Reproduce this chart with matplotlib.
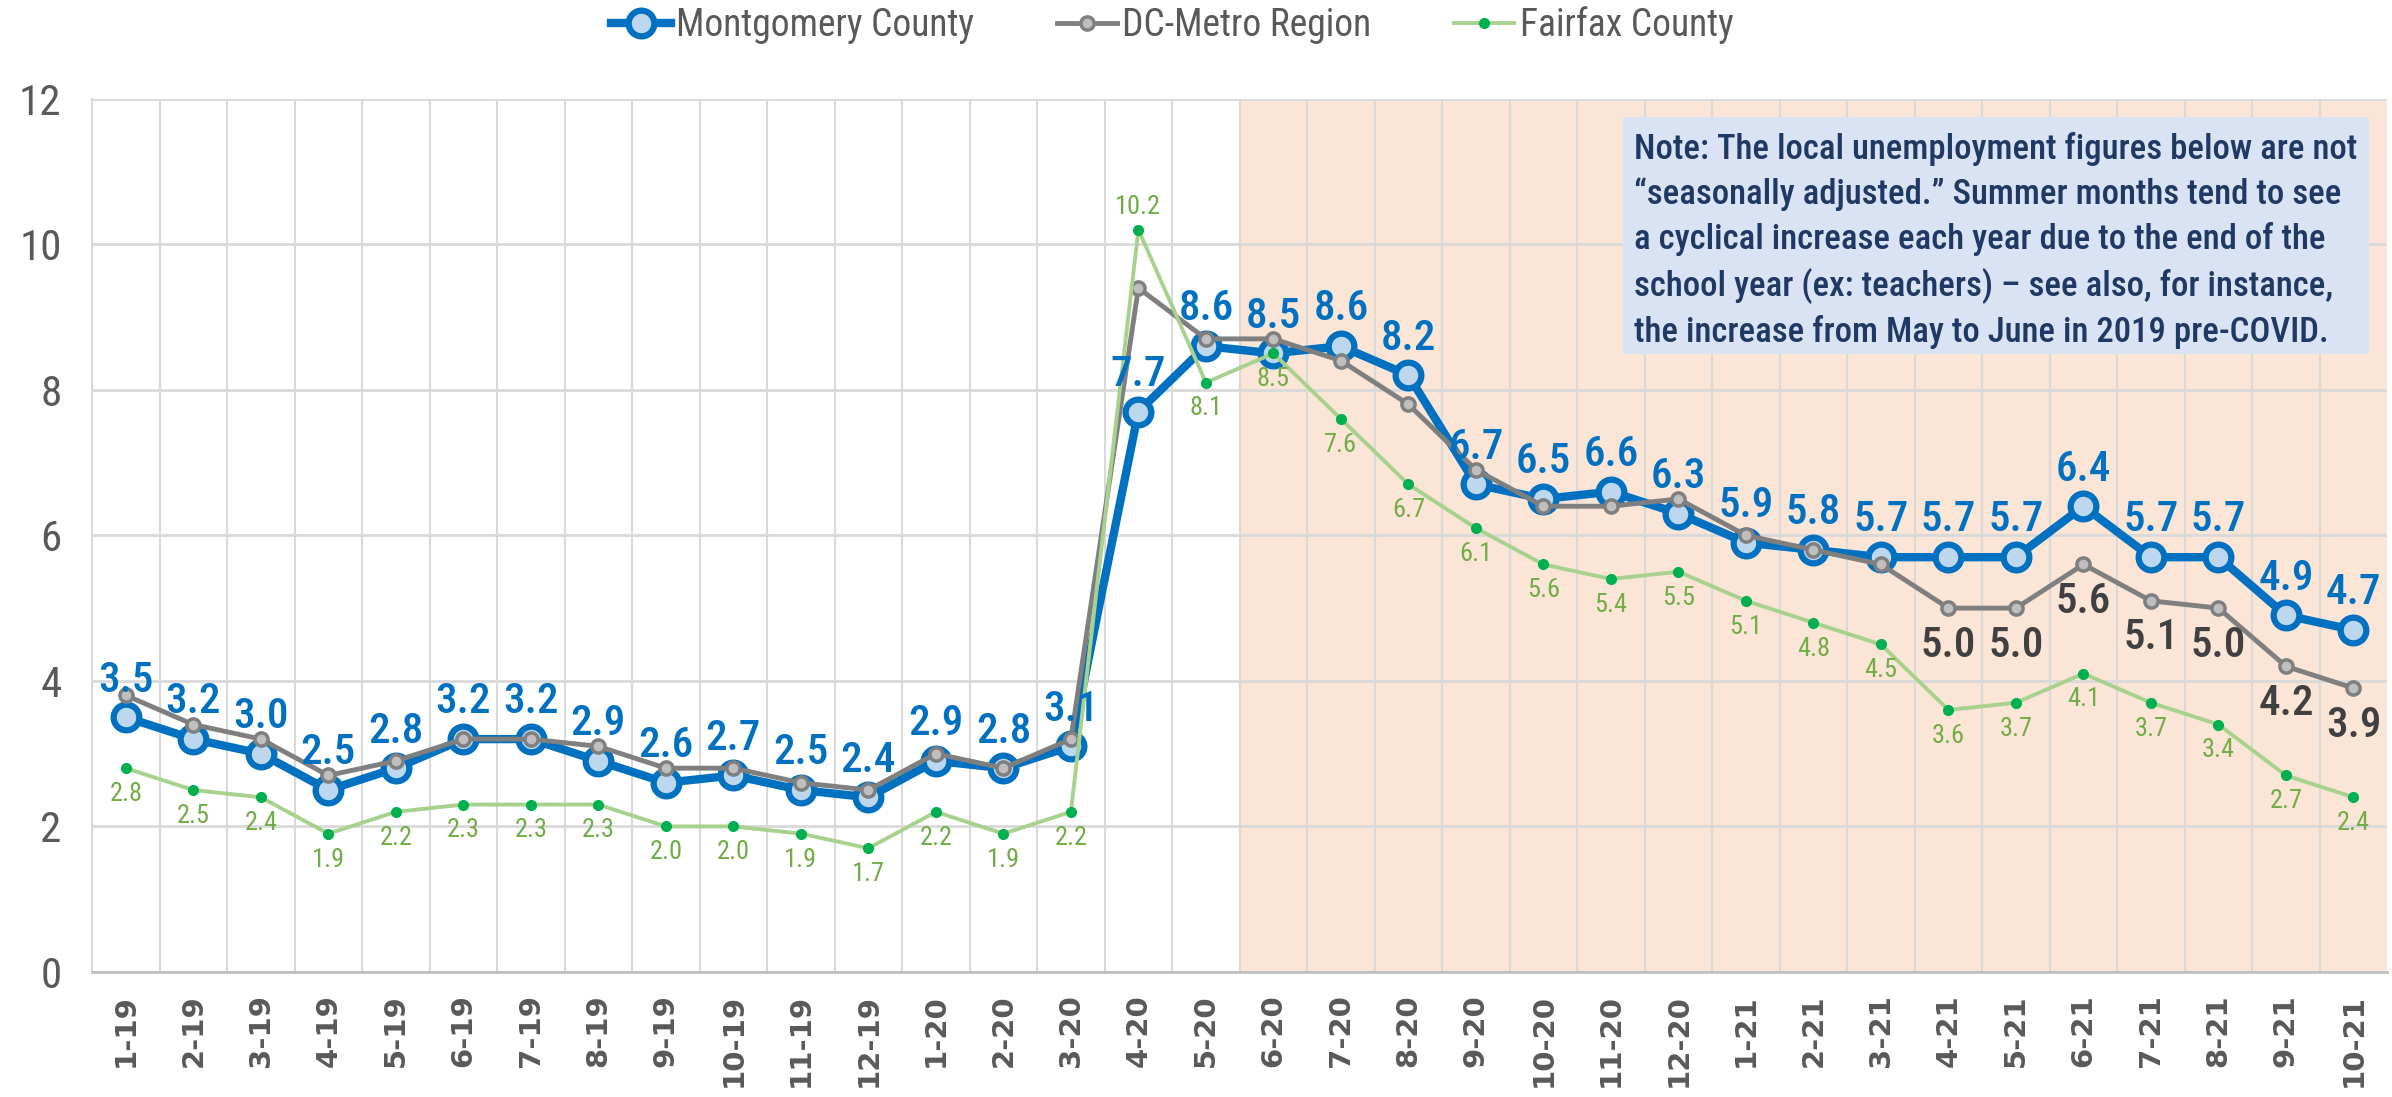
import matplotlib
matplotlib.use("Agg")
import matplotlib.pyplot as plt
from matplotlib import font_manager
from matplotlib.patches import Rectangle

months = ["1-19", "2-19", "3-19", "4-19", "5-19", "6-19", "7-19", "8-19", "9-19", "10-19", "11-19", "12-19",
          "1-20", "2-20", "3-20", "4-20", "5-20", "6-20", "7-20", "8-20", "9-20", "10-20", "11-20", "12-20",
          "1-21", "2-21", "3-21", "4-21", "5-21", "6-21", "7-21", "8-21", "9-21", "10-21"]
montgomery = [3.5, 3.2, 3.0, 2.5, 2.8, 3.2, 3.2, 2.9, 2.6, 2.7, 2.5, 2.4,
              2.9, 2.8, 3.1, 7.7, 8.6, 8.5, 8.6, 8.2, 6.7, 6.5, 6.6, 6.3,
              5.9, 5.8, 5.7, 5.7, 5.7, 6.4, 5.7, 5.7, 4.9, 4.7]
dc_metro = [3.8, 3.4, 3.2, 2.7, 2.9, 3.2, 3.2, 3.1, 2.8, 2.8, 2.6, 2.5,
            3.0, 2.8, 3.2, 9.4, 8.7, 8.7, 8.4, 7.8, 6.9, 6.4, 6.4, 6.5,
            6.0, 5.8, 5.6, 5.0, 5.0, 5.6, 5.1, 5.0, 4.2, 3.9]
fairfax = [2.8, 2.5, 2.4, 1.9, 2.2, 2.3, 2.3, 2.3, 2.0, 2.0, 1.9, 1.7,
           2.2, 1.9, 2.2, 10.2, 8.1, 8.5, 7.6, 6.7, 6.1, 5.6, 5.4, 5.5,
           5.1, 4.8, 4.5, 3.6, 3.7, 4.1, 3.7, 3.4, 2.7, 2.4]
dc_labelled_from = 27   # only 4-21 onwards have DC labels
shade_from = 17         # 6-20 onwards shaded

note = ("Note: The local unemployment figures below are not\n"
        "\u201cseasonally adjusted.\u201d Summer months tend to see\n"
        "a cyclical increase each year due to the end of the\n"
        "school year (ex: teachers) \u2013 see also, for instance,\n"
        "the increase from May to June in 2019 pre-COVID.")

names = {f.name for f in font_manager.fontManager.ttflist}
narrow = "DejaVu Sans"
for cand in ["Roboto Condensed", "Liberation Sans Narrow", "Open Sans Condensed", "Noto Sans Condensed"]:
    if cand in names:
        narrow = cand
        break

BLUE = "#0070C0"
GREY = "#7F7F7F"
LGREEN = "#A9D18E"
GREEN = "#00B050"
TXT = "#595959"

fig = plt.figure(figsize=(23.92, 10.97), dpi=100)
ax = fig.add_axes([0.0385, 0.114, 0.9595, 0.796])
x = list(range(len(months)))

ax.set_xlim(-0.5, len(months) - 0.5)
ax.set_ylim(0, 12)

# shaded covid period
ax.add_patch(Rectangle((shade_from - 0.5, 0), len(months) - shade_from, 12,
                       facecolor="#FBE5D6", edgecolor="none", zorder=0))

# grid
for v in range(0, 13, 2):
    ax.axhline(v, color="#D9D9D9", lw=2, zorder=1)
for b in range(len(months)):
    ax.axvline(b - 0.5, color="#D9D9D9", lw=1.5, zorder=1)

ax.plot(x, montgomery, color=BLUE, lw=6, marker="o", ms=18.5, mfc="#BDD7EE", mec=BLUE, mew=4.5,
        label="Montgomery County", zorder=3)
ax.plot(x, dc_metro, color=GREY, lw=3.5, marker="o", ms=9.5, mfc="#BFBFBF", mec=GREY, mew=2.5,
        label="DC-Metro Region", zorder=4)
ax.plot(x, fairfax, color=LGREEN, lw=2.8, marker="o", ms=7, mfc=GREEN, mec=GREEN,
        label="Fairfax County", zorder=5)

for i, v in enumerate(montgomery):
    ax.annotate(f"{v:.1f}", (i, v), xytext=(0, 12), textcoords="offset points",
                ha="center", va="bottom", color=BLUE, fontsize=31, fontweight="medium",
                family=narrow, zorder=6)
for i, v in enumerate(fairfax):
    off, va = (-10, "top") if i != 15 else (8, "bottom")
    ax.annotate(f"{v:.1f}", (i, v), xytext=(0, off), textcoords="offset points",
                ha="center", va=va, color="#70AD47", fontsize=19, family=narrow, zorder=6)
for i in range(dc_labelled_from, len(months)):
    ax.annotate(f"{dc_metro[i]:.1f}", (i, dc_metro[i]), xytext=(0, -12), textcoords="offset points",
                ha="center", va="top", color="#404040", fontsize=31, fontweight="medium",
                family=narrow, zorder=6)

# note box
ax.add_patch(Rectangle((0.667, 0.708), 0.325, 0.271, transform=ax.transAxes,
                       facecolor="#DAE3F3", edgecolor="none", zorder=7))
ax.text(0.672, 0.962, note, transform=ax.transAxes, ha="left", va="top", fontsize=25,
        color="#203864", family=narrow, fontweight="medium", linespacing=1.42, zorder=8)

ax.set_xticks(x)
ax.set_xticklabels(months, rotation=90, fontsize=21, fontweight="bold", color=TXT)
ax.set_yticks(range(0, 13, 2))
ax.set_yticklabels([str(v) for v in range(0, 13, 2)], fontsize=31, color=TXT, family=narrow)
ax.tick_params(length=0, pad=16)
ax.tick_params(axis="y", pad=22)
for s in ["top", "right"]:
    ax.spines[s].set_visible(False)
ax.spines["left"].set_color("#D9D9D9")
ax.spines["left"].set_linewidth(1.5)
ax.spines["bottom"].set_color("#BFBFBF")
ax.spines["bottom"].set_linewidth(2)

fig.legend(loc="center", bbox_to_anchor=(0.49, 0.977), ncol=3, frameon=False,
           prop={"family": narrow, "size": 27}, labelcolor=TXT, handlelength=1.6,
           handletextpad=0.15, columnspacing=2.2)

fig.savefig("out.png", dpi=100)
